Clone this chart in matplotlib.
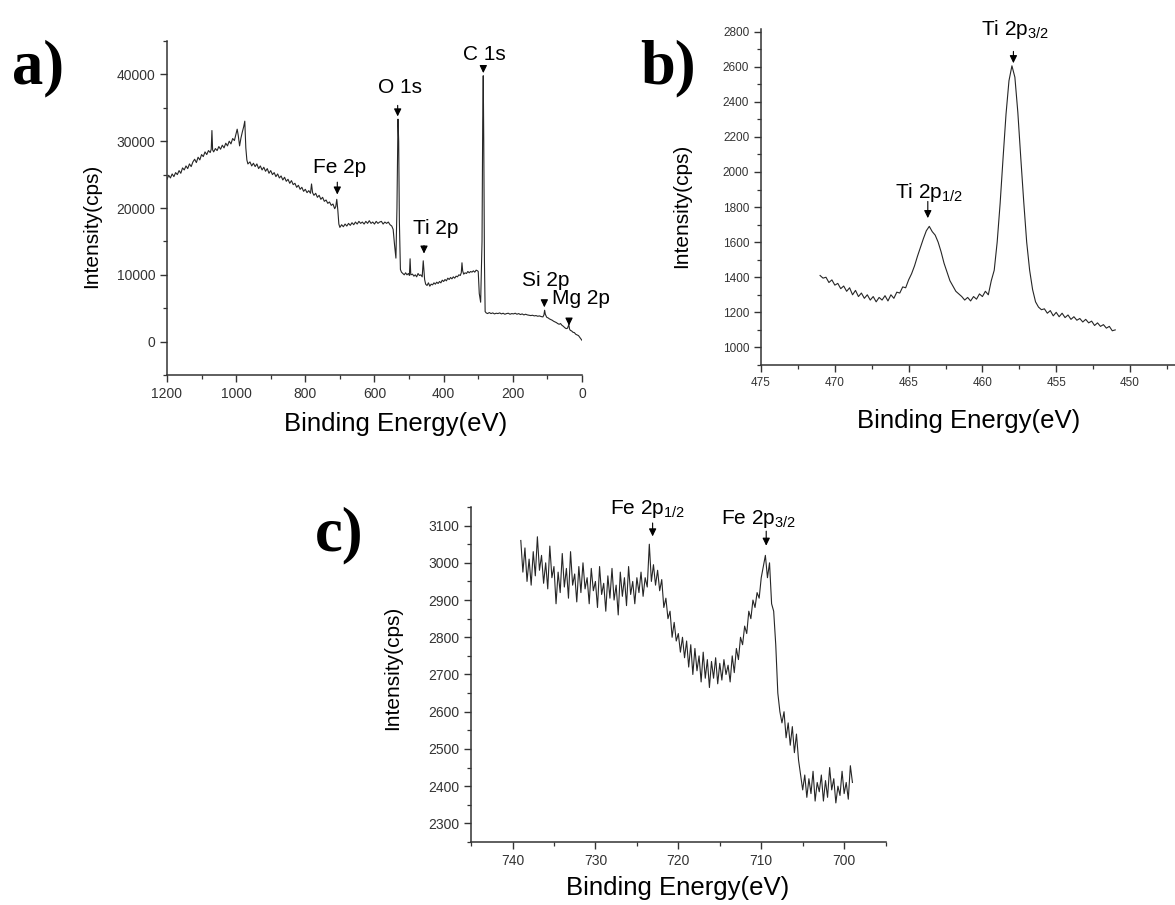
import matplotlib
matplotlib.use("Agg")
import matplotlib.pyplot as plt
from matplotlib.ticker import MultipleLocator
import numpy as np

plt.rcParams.update({
    "font.family": "Liberation Sans",
    "mathtext.fontset": "custom",
    "mathtext.rm": "Liberation Sans",
    "mathtext.it": "Liberation Sans:italic",
    "mathtext.bf": "Liberation Sans:bold",
    "axes.spines.top": False,
    "axes.spines.right": False,
    "axes.linewidth": 1.1,
    "axes.edgecolor": "#333333",
    "xtick.color": "#333333",
    "ytick.color": "#333333",
})
LINE = "#262626"

# ---- a) survey spectrum -------------------------------------------------
SURVEY_BE = [
    1200, 1195, 1190, 1185, 1180, 1175, 1170, 1165, 1160, 1155,
    1150, 1145, 1140, 1135, 1130, 1125, 1120, 1115, 1110, 1105,
    1100, 1095, 1090, 1085, 1080, 1075, 1072, 1070, 1068, 1065,
    1060, 1055, 1050, 1045, 1040, 1035, 1030, 1025, 1020, 1015,
    1010, 1005, 1000, 997, 994, 990, 986, 982, 978, 975,
    972, 969, 966, 960, 955, 950, 945, 940, 935, 930,
    925, 920, 915, 910, 905, 900, 895, 890, 885, 880,
    875, 870, 865, 860, 855, 850, 845, 840, 835, 830,
    825, 820, 815, 810, 805, 800, 795, 790, 785, 782,
    779, 775, 770, 765, 760, 755, 750, 745, 740, 735,
    730, 725, 720, 715, 712, 709, 706, 703, 700, 695,
    690, 685, 680, 675, 670, 665, 660, 655, 650, 645,
    640, 635, 630, 625, 620, 615, 610, 605, 600, 595,
    590, 585, 580, 575, 570, 565, 560, 555, 550, 546,
    542, 538, 535, 532, 530, 528, 525, 522, 518, 514,
    510, 506, 502, 499, 497, 495, 490, 486, 482, 478,
    474, 470, 466, 462, 459, 457, 455, 452, 448, 444,
    440, 436, 432, 428, 424, 420, 416, 412, 408, 404,
    400, 396, 392, 388, 384, 380, 376, 372, 368, 364,
    360, 356, 352, 349, 347, 345, 342, 338, 334, 330,
    326, 322, 318, 314, 310, 306, 302, 300, 297, 293,
    289, 287, 285.5, 284, 282, 280, 277, 273, 268, 263,
    258, 253, 248, 243, 238, 233, 228, 223, 218, 213,
    208, 203, 198, 193, 188, 183, 178, 173, 168, 163,
    158, 153, 148, 143, 138, 133, 128, 123, 118, 113,
    110, 108, 106, 102, 98, 94, 90, 86, 82, 78,
    74, 70, 66, 62, 58, 54, 50, 46, 42, 38,
    36, 34, 30, 26, 22, 18, 14, 10, 6, 3,
    0,
]
SURVEY_CPS = [
    24300, 24900, 24500, 25100, 24700, 25300, 25000, 25600, 25200, 26000,
    25700, 26300, 25900, 26600, 26200, 26900, 27300, 26800, 27600, 27200,
    28000, 27700, 28400, 28000, 28600, 28300, 28800, 31600, 28700, 28400,
    28900, 28600, 29200, 28800, 29400, 29000, 29700, 29300, 30000, 29600,
    30400, 30100, 31200, 31800, 30900, 29300, 30500, 31400, 32200, 33000,
    29000, 27200, 26600, 26900, 26300, 26700, 26200, 26600, 25900, 26300,
    25700, 26100, 25500, 25900, 25200, 25600, 25000, 25300, 24700, 25100,
    24500, 24800, 24200, 24600, 24000, 24300, 23700, 24100, 23500, 23700,
    23100, 23400, 22800, 23100, 22500, 22800, 22300, 22600, 22200, 23600,
    22300, 21900, 22200, 21600, 21900, 21300, 21600, 21000, 21200, 20700,
    20900, 20400, 20600, 19900, 20200, 21300, 19700, 17600, 17100, 17500,
    17200, 17600, 17300, 17700, 17400, 17800, 17500, 17900, 17600, 18000,
    17700, 17900, 17600, 18000, 17700, 18100, 17700, 17900, 17600, 18000,
    17700, 17900, 18000, 17600, 17900, 17700, 17900, 17500, 17300, 16800,
    14500, 12500, 20000, 33300, 30000, 18000, 10800, 10400, 10200, 10000,
    10300, 10000, 10200, 9900, 12400, 10000, 10100, 9800, 10000, 9700,
    10200, 9900, 10000, 9700, 12100, 10600, 9300, 8600, 8400, 8800,
    8300, 8600, 8500, 8800, 8600, 8900, 8700, 9000, 8800, 9200,
    9000, 9300, 9100, 9500, 9300, 9600, 9400, 9700, 9500, 9800,
    9700, 10000, 9900, 10300, 11800, 10600, 10100, 10300, 10200, 10500,
    10300, 10500, 10400, 10600, 10400, 10700, 10600, 10500, 7200, 5900,
    15000, 33000, 39800, 30000, 12000, 4500, 4300, 4200, 4350, 4200,
    4300, 4150, 4250, 4200, 4300, 4150, 4250, 4100, 4200, 4250,
    4100, 4200, 4150, 4250, 4100, 4200, 4050, 4150, 4000, 4100,
    4000, 3950, 3900, 3950, 3850, 3900, 3800, 3850, 3750, 3700,
    4000, 4700, 4100, 3650, 3550, 3400, 3300, 3200, 3050, 2950,
    2850, 2700, 2600, 2700, 2450, 2300, 2100, 1950, 2000, 2550,
    1900, 1700, 1600, 1400, 1350, 1100, 1000, 900, 600, 400,
    200,
]

# ---- b) Ti 2p, 471 -> 451 eV, 0.2 eV steps --------------------------------
TI_START, TI_STOP, TI_STEP = 471.0, 451.0, 0.2
TI_CPS = [
    1410, 1395, 1400, 1370, 1385, 1355, 1365, 1335, 1350, 1320,
    1340, 1300, 1325, 1290, 1310, 1280, 1300, 1270, 1290, 1260,
    1285, 1270, 1295, 1265, 1300, 1280, 1315, 1310, 1345, 1340,
    1385, 1420, 1465, 1520, 1570, 1620, 1665, 1690, 1660, 1640,
    1600, 1545, 1480, 1430, 1380, 1350, 1320, 1305, 1290, 1270,
    1285, 1265, 1290, 1275, 1305, 1290, 1320, 1300, 1380, 1440,
    1600, 1820, 2080, 2330, 2520, 2605, 2540, 2340, 2080, 1830,
    1600, 1440, 1330, 1260, 1230, 1215, 1220, 1195, 1210, 1180,
    1200, 1175, 1195, 1170, 1185, 1160, 1175, 1155, 1165, 1145,
    1160, 1140, 1150, 1125, 1140, 1120, 1130, 1110, 1120, 1095,
    1100,
]

# ---- c) Fe 2p, 739 -> 699 eV, 0.25 eV steps -------------------------------
FE_START, FE_STOP, FE_STEP = 739.0, 699.0, 0.25
FE_CPS = [
    3060, 2975, 3040, 2950, 3010, 2940, 3030, 2965,
    3070, 2980, 3020, 2945, 3000, 2930, 3045, 2960,
    2990, 2890, 2975, 2920, 3025, 2935, 2985, 2905,
    3030, 2940, 2970, 2895, 2990, 2920, 3000, 2930,
    2960, 2890, 2985, 2925, 2950, 2880, 2990, 2915,
    2945, 2870, 2965, 2905, 2985, 2900, 2940, 2860,
    2975, 2910, 2960, 2885, 2990, 2915, 2950, 2890,
    2960, 2920, 2975, 2910, 2960, 2935, 3050, 2950,
    2995, 2940, 2980, 2925, 2955, 2880, 2905, 2850,
    2870, 2800, 2840, 2790, 2810, 2760, 2800, 2745,
    2790, 2720, 2780, 2700, 2770, 2710, 2750, 2680,
    2760, 2690, 2740, 2665, 2735, 2690, 2745, 2675,
    2730, 2685, 2740, 2700, 2725, 2680, 2750, 2705,
    2770, 2740, 2800, 2780, 2830, 2810, 2870, 2850,
    2900, 2880, 2920, 2905, 2960, 2990, 3020, 2960,
    3000, 2890, 2870, 2780, 2650, 2600, 2570, 2600,
    2530, 2570, 2510, 2560, 2490, 2540, 2470, 2430,
    2390, 2430, 2370, 2420, 2380, 2440, 2360, 2410,
    2385, 2430, 2360, 2415, 2370, 2450, 2390, 2420,
    2355, 2400, 2375, 2440, 2380, 2410, 2365, 2455,
    2410,
]


def style(ax, xmaj, xmin, ymaj, ymin, fs):
    ax.xaxis.set_major_locator(MultipleLocator(xmaj))
    ax.xaxis.set_minor_locator(MultipleLocator(xmin))
    ax.yaxis.set_major_locator(MultipleLocator(ymaj))
    ax.yaxis.set_minor_locator(MultipleLocator(ymin))
    ax.tick_params(which="major", direction="out", length=5, width=1.0,
                   labelsize=fs, labelcolor="#333333")
    ax.tick_params(which="minor", direction="out", length=3, width=0.9)


def mark(ax, x, y_tail, y_tip):
    ax.annotate("", xy=(x, y_tip), xytext=(x, y_tail),
                arrowprops=dict(arrowstyle="-|>,head_length=0.45,head_width=0.22",
                                color="black", lw=0.8, shrinkA=0, shrinkB=0,
                                mutation_scale=10))


fig = plt.figure(figsize=(11.75, 9.05), dpi=100)
LAB = dict(fontsize=15)

# a) --------------------------------------------------------------------
ax1 = fig.add_axes([0.1421, 0.5856, 0.3532, 0.3691])
ax1.plot(SURVEY_BE, SURVEY_CPS, color=LINE, lw=0.8)
ax1.set_xlim(1200, 0)
ax1.set_ylim(-5000, 45000)
style(ax1, 200, 100, 10000, 5000, 10)
ax1.set_ylabel("Intensity(cps)", fontsize=15)
ax1.set_xlabel("Binding Energy(eV)", fontsize=18.5)
ax1.yaxis.set_label_coords(-0.158, 0.448)
ax1.xaxis.set_label_coords(0.552, -0.111)

ax1.text(700, 26070, "Fe 2p", ha="center", va="center", **LAB)
mark(ax1, 707.5, 23870, 22020)
ax1.text(527.6, 37980, "O 1s", ha="center", va="center", **LAB)
mark(ax1, 532.9, 35360, 33710)
ax1.text(424, 17000, "Ti 2p", ha="center", va="center", **LAB)
mark(ax1, 456.8, 14380, 13180)
ax1.text(282, 43000, "C 1s", ha="center", va="center", **LAB)
mark(ax1, 285.3, 41100, 40200)
ax1.text(106, 9150, "Si 2p", ha="center", va="center", **LAB)
mark(ax1, 108.8, 6140, 5140)
ax1.text(88, 6500, "Mg 2p", ha="left", va="center", **LAB)
mark(ax1, 37.5, 3450, 2400)

# b) --------------------------------------------------------------------
ti_be = np.arange(TI_START, TI_STOP - TI_STEP / 2, -TI_STEP)
ax2 = fig.add_axes([0.6477, 0.5967, 0.3523, 0.3713])
ax2.plot(ti_be, TI_CPS, color=LINE, lw=0.8)
ax2.set_xlim(475, 446.95)
ax2.set_ylim(900, 2815)
style(ax2, 5, 2.5, 200, 100, 8.5)
ax2.set_ylabel("Intensity(cps)", fontsize=15)
ax2.set_xlabel("Binding Energy(eV)", fontsize=18.5)
ax2.yaxis.set_label_coords(-0.168, 0.474)
ax2.xaxis.set_label_coords(0.502, -0.131)

ax2.text(465.9, 1851, r"Ti 2p$_{1/2}$", ha="left", va="baseline", **LAB)
mark(ax2, 463.7, 1832, 1737)
ax2.text(460.1, 2782, r"Ti 2p$_{3/2}$", ha="left", va="baseline", **LAB)
mark(ax2, 457.9, 2687, 2620)

# c) --------------------------------------------------------------------
fe_be = np.arange(FE_START, FE_STOP - FE_STEP / 2, -FE_STEP)
ax3 = fig.add_axes([0.4009, 0.0696, 0.3528, 0.3702])
ax3.plot(fe_be, FE_CPS, color=LINE, lw=0.8)
ax3.set_xlim(745, 695)
ax3.set_ylim(2250, 3150)
style(ax3, 10, 5, 100, 50, 10)
ax3.set_ylabel("Intensity(cps)", fontsize=15)
ax3.set_xlabel("Binding Energy(eV)", fontsize=18.5)
ax3.yaxis.set_label_coords(-0.166, 0.521)
ax3.xaxis.set_label_coords(0.498, -0.101)

ax3.text(728.3, 3132, r"Fe 2p$_{1/2}$", ha="left", va="baseline", **LAB)
mark(ax3, 723.1, 3107, 3071)
ax3.text(714.8, 3103, r"Fe 2p$_{3/2}$", ha="left", va="baseline", **LAB)
mark(ax3, 709.4, 3085, 3046)

# panel letters
PANEL = dict(fontsize=45, fontweight="bold", family="Liberation Serif",
             va="baseline", ha="left")
fig.text(12 / 1175, 1 - 83 / 905, "a)", **PANEL)
fig.text(640 / 1175, 1 - 83 / 905, "b)", **PANEL)
fig.text(315 / 1175, 1 - 550 / 905, "c)", **PANEL)

fig.savefig("out.png", dpi=100)
